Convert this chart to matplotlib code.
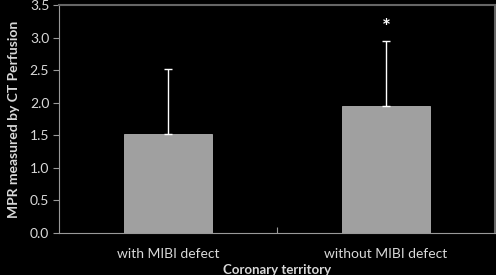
import matplotlib
matplotlib.use("Agg")
import matplotlib.pyplot as plt

categories = ["with MIBI defect", "without MIBI defect"]
means = [1.52, 1.95]
sd_upper = [1.00, 1.00]
yticks = [0.0, 0.5, 1.0, 1.5, 2.0, 2.5, 3.0, 3.5]

plt.rcParams["font.family"] = ["Lato", "DejaVu Sans"]
txt = "#d9d9d9"

fig = plt.figure(figsize=(4.96, 2.75), dpi=100, facecolor="black")
ax = fig.add_axes([59 / 496, 42 / 275, 436 / 496, 228 / 275], facecolor="black")

x = range(len(categories))
ax.bar(x, means, width=0.4, color="#a0a0a0", edgecolor="#b0b0b0", linewidth=0.6, zorder=2)
ax.errorbar(x, means, yerr=[[0, 0], sd_upper], fmt="none", ecolor="white",
            elinewidth=1.0, capsize=3, capthick=1.0, zorder=3)
ax.text(1, means[1] + sd_upper[1] + 0.19, "*", color="white", ha="center", va="center",
        fontsize=15, fontweight="bold")

ax.set_xlim(-0.5, 1.5)
ax.set_ylim(0, 3.5)
ax.set_yticks(yticks)
ax.set_yticklabels([f"{v:.1f}" for v in yticks], color=txt, fontsize=10)
ax.set_xticks([0.5])
ax.set_xticklabels([""])
ax.set_xticks([0, 1], minor=True)
ax.set_xticklabels(categories, minor=True, color=txt, fontsize=10)
ax.tick_params(axis="x", which="minor", length=0, pad=11)
ax.tick_params(axis="x", which="major", length=4, direction="in", color="#999999")
ax.tick_params(axis="y", length=4, direction="out", color="#999999", pad=3)

for s in ["left", "bottom"]:
    ax.spines[s].set_color("#999999")
for s in ["top", "right"]:
    ax.spines[s].set_color("#666666")
    ax.spines[s].set_linewidth(1.5)

ax.set_xlabel("Coronary territory", color=txt, fontsize=9.5, fontweight="bold", labelpad=3)
ax.set_ylabel("MPR measured by CT Perfusion", color=txt, fontsize=10, fontweight="bold", labelpad=7)

fig.savefig("out.png", dpi=100, facecolor="black")
